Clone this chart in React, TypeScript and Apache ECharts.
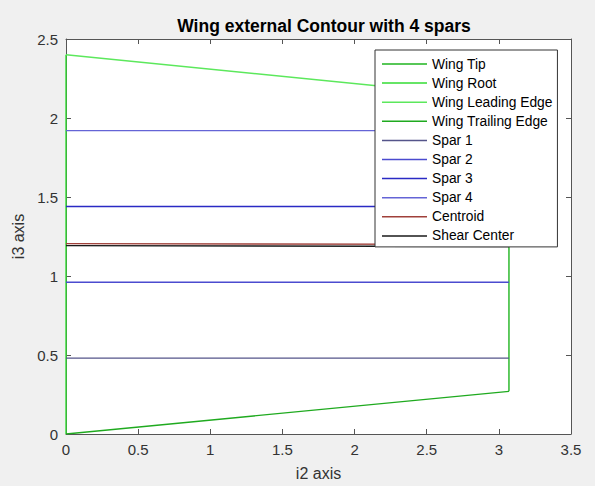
import React, { useEffect, useRef } from "react";
import * as echarts from "echarts";

const spanX = [0, 3.07];
const rootX = [0, 0];
const tipX = [3.07, 3.07];
const rootY = [0, 2.4];
const tipY = [0.27, 2.12];
const leadingY = [2.4, 2.12];
const trailingY = [0, 0.27];
const spar1Y = [0.48, 0.48];
const spar2Y = [0.96, 0.96];
const spar3Y = [1.44, 1.44];
const spar4Y = [1.92, 1.92];
const centroidY = [1.205, 1.2];
const shearY = [1.192, 1.187];
const xTicks = [0, 0.5, 1, 1.5, 2, 2.5, 3, 3.5];
const yTicks = [0, 0.5, 1, 1.5, 2, 2.5];

const seriesNames = [
  "Wing Tip",
  "Wing Root",
  "Wing Leading Edge",
  "Wing Trailing Edge",
  "Spar 1",
  "Spar 2",
  "Spar 3",
  "Spar 4",
  "Centroid",
  "Shear Center",
];
const seriesColors = [
  "#1fb41f",
  "#33dd33",
  "#5ce85c",
  "#1faa1f",
  "#55558a",
  "#4b4bcf",
  "#2a2ac4",
  "#6464d6",
  "#a0403a",
  "#1a1a1a",
];

const pts = (xs: number[], ys: number[]) => xs.map((x, i) => [x, ys[i]]);

export default function App() {
  const ref = useRef<HTMLDivElement>(null);
  useEffect(() => {
    if (!ref.current) return;
    const chart = echarts.init(ref.current, null, { renderer: "svg" });
    const dataSets = [
      pts(tipX, tipY),
      pts(rootX, rootY),
      pts(spanX, leadingY),
      pts(spanX, trailingY),
      pts(spanX, spar1Y),
      pts(spanX, spar2Y),
      pts(spanX, spar3Y),
      pts(spanX, spar4Y),
      pts(spanX, centroidY),
      pts(spanX, shearY),
    ];
    const font = "'Liberation Sans', Arial, sans-serif";
    const axisColor = "#555555";
    const baseAxis = {
      type: "value" as const,
      axisLine: { show: true, onZero: false, lineStyle: { color: axisColor, width: 1 } },
      axisTick: { show: true, inside: true, length: 5, lineStyle: { color: axisColor } },
      splitLine: { show: false },
    };
    chart.setOption({
      animation: false,
      backgroundColor: "#f0f0f0",
      title: {
        text: "Wing external Contour with 4 spars",
        left: 319,
        textAlign: "center",
        top: 12,
        textStyle: { fontFamily: font, fontSize: 17.5, fontWeight: "bold", color: "#000" },
      },
      grid: {
        left: 66,
        right: 24,
        top: 39,
        bottom: 48,
        show: true,
        backgroundColor: "#ffffff",
        borderWidth: 0,
      },
      legend: {
        orient: "vertical",
        left: 375,
        top: 50,
        z: 20,
        data: seriesNames.map((name) => ({ name, icon: "path://M0,0L45,0L45,1.5L0,1.5Z" })),
        backgroundColor: "#ffffff",
        borderColor: "#333333",
        borderWidth: 1,
        borderRadius: 0,
        padding: [7, 5, 4, 7],
        itemWidth: 45,
        itemHeight: 1.6,
        itemGap: 5.1,
        textStyle: { fontFamily: font, fontSize: 13.8, color: "#000" },
      },
      xAxis: [
        {
          ...baseAxis,
          position: "bottom",
          min: 0,
          max: 3.5,
          interval: 0.5,
          name: "i2 axis",
          nameLocation: "middle",
          nameGap: 31,
          nameTextStyle: { fontFamily: font, fontSize: 16, color: "#333" },
          axisLabel: {
            fontFamily: font,
            fontSize: 15,
            color: "#333",
            margin: 8,
            formatter: (v: number) => (xTicks.includes(v) ? String(v) : ""),
          },
        },
        {
          ...baseAxis,
          position: "top",
          min: 0,
          max: 3.5,
          interval: 0.5,
          axisLabel: { show: false },
        },
      ],
      yAxis: [
        {
          ...baseAxis,
          position: "left",
          min: 0,
          max: 2.5,
          interval: 0.5,
          name: "i3 axis",
          nameLocation: "middle",
          nameGap: 36,
          nameTextStyle: { fontFamily: font, fontSize: 16, color: "#333" },
          axisLabel: {
            fontFamily: font,
            fontSize: 15,
            color: "#333",
            margin: 8,
            formatter: (v: number) => (yTicks.includes(v) ? String(v) : ""),
          },
        },
        {
          ...baseAxis,
          position: "right",
          min: 0,
          max: 2.5,
          interval: 0.5,
          axisLabel: { show: false },
        },
      ],
      series: seriesNames.map((name, i) => ({
        name,
        type: "line",
        data: dataSets[i],
        symbol: "none",
        showSymbol: false,
        color: seriesColors[i],
        lineStyle: { color: seriesColors[i], width: 1.4 },
        z: 2,
      })),
    });
    return () => chart.dispose();
  }, []);
  return (
    <div
      ref={ref}
      style={{ position: "fixed", left: 0, top: 0, width: 595, height: 486 }}
    />
  );
}
